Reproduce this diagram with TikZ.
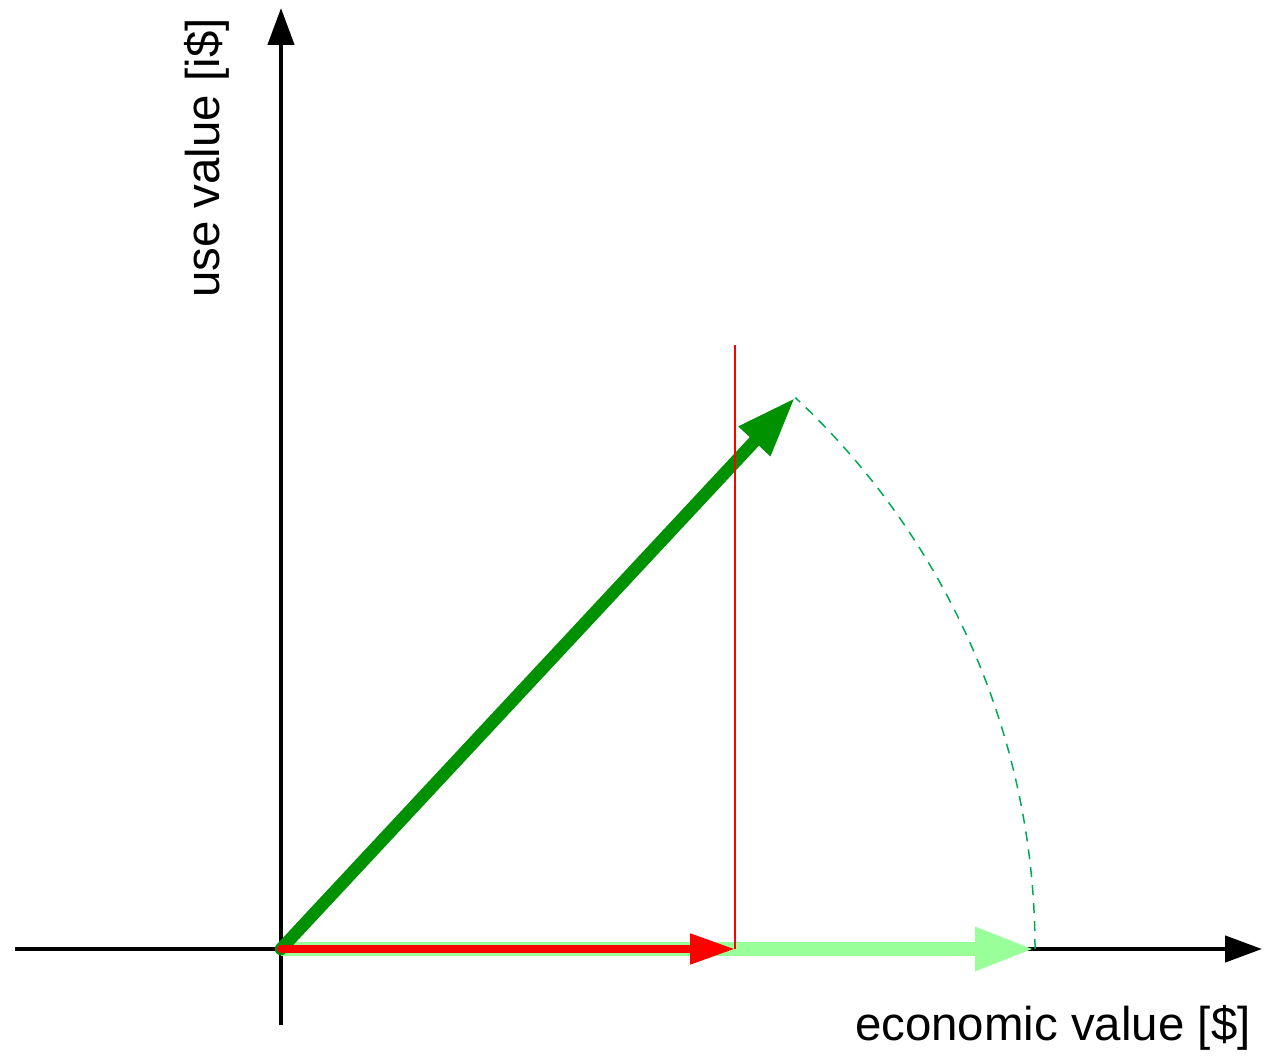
\documentclass[tikz,border=0pt]{standalone}
\usepackage{fontspec}
\setmainfont{Liberation Sans}
\usetikzlibrary{arrows.meta,positioning,calc}

\definecolor{vecgreen}{RGB}{0,145,0}
\definecolor{lightgreen}{RGB}{153,255,153}
\definecolor{arcgreen}{RGB}{0,170,85}

\begin{document}
\begin{tikzpicture}[
    x=0.02cm, y=0.02cm,
    axis/.style={line width=0.09cm, -{Triangle[length=0.74cm, width=0.52cm]}},
    usevec/.style={vecgreen, line width=0.25cm, line cap=round, -{Triangle[length=1.2cm, width=0.8cm]}},
    econvec/.style={lightgreen, line width=0.28cm, -{Triangle[length=1.2cm, width=0.8cm]}},
    pricevec/.style={red, line width=0.16cm, line cap=round, -{Triangle[length=0.9cm, width=0.58cm]}},
    lbl/.style={font=\fontsize{27}{32}\selectfont, inner sep=0pt}
]
\useasboundingbox (0,0) rectangle (1266,1057);

\coordinate (O) at (281,108);
\coordinate (xstart) at (15,108);
\coordinate (xend) at (1262,108);
\coordinate (ystart) at (281,32);
\coordinate (yend) at (281,1049);
\coordinate (usetip) at ($(O)+(47:754)$);
\coordinate (econtip) at (1035,108);
\coordinate (pricetip) at (735,108);
\coordinate (pricetop) at (735,712);

% axes
\draw[axis] (xstart) -- (xend);
\draw[axis] (ystart) -- (yend);

\node[lbl, anchor=east] (xlabel) at (1251,29) {economic value [\$]};
\node[lbl, rotate=90] (ylabel) at (207,899) {use value [i\$]};

% vectors
\draw[econvec] (O) -- (econtip);
\draw[usevec] (O) -- (usetip);
\draw[pricevec] (O) -- (pricetip);
\draw[red, line width=0.03cm] (pricetip) -- (pricetop);

% rotation of the use value onto the axis
\draw[arcgreen, line width=0.03cm, dash pattern=on 0.2cm off 0.16cm]
    (econtip) arc[start angle=0, end angle=47, radius=754];
\end{tikzpicture}
\end{document}
